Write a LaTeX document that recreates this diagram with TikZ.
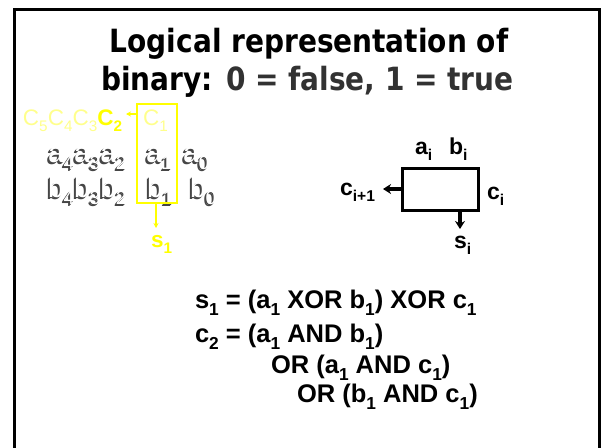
\documentclass[tikz,border=0pt]{standalone}
\usepackage{graphicx}
\usepackage{fontspec}
\setmainfont{Liberation Sans}
\newfontfamily\titlefont{DejaVu Sans}
\usepackage{tikz}
\usetikzlibrary{arrows.meta, positioning}
\definecolor{hiyellow}{RGB}{255, 255, 0}
\definecolor{paleyellow}{RGB}{255, 255, 140}
\definecolor{titlegray}{RGB}{50, 50, 50}
\definecolor{embshade}{RGB}{70, 70, 70}
\newcommand{\dn}[1]{\raisebox{-0.28em}{\scalebox{0.68}{#1}}}
\newcommand{\squeeze}[1]{\scalebox{0.875}[1]{#1}}
\tikzset{
  txt/.style={anchor=base west, inner sep=0pt, outer sep=0pt},
  titletext/.style={anchor=base, inner sep=0pt, font=\titlefont\bfseries\fontsize{32}{36}\selectfont},
  eqtext/.style={txt, font=\fontsize{25.5}{28}\selectfont\bfseries},
  lbltext/.style={txt, font=\fontsize{23}{26}\selectfont\bfseries},
  embtext/.style={txt, text=white, font=\fontsize{28}{30}\selectfont},
  embshadow/.style={txt, text=embshade, font=\fontsize{28}{30}\selectfont},
  fatarrow/.style={line width=3.2, -{Stealth[length=8pt, width=10pt]}},
}

\begin{document}
\begin{tikzpicture}[x=1pt, y=-1pt]
    \useasboundingbox (0,0) rectangle (602,447);
    % Slide frame (runs off the bottom)
    \draw[line width=2.8] (14.5,460) -- (14.5,9.5) -- (599.5,9.5) -- (599.5,460);

    % Title
    \node[titletext] (title1) at (309,52) {\squeeze{Logical representation of}};
    \node[titletext] (title2) at (307.5,90) {\squeeze{binary: \textcolor{titlegray}{0 = false, 1 = true}}};

    % Carry row
    \node[txt, text=paleyellow, font=\fontsize{22.5}{24}\selectfont] (c53) at (23,125) {C\dn{5}C\dn{4}C\dn{3}};
    \node[txt, text=hiyellow, font=\fontsize{22.5}{24}\selectfont\bfseries] (c2) at (c53.base east) {C\dn{2}};
    \node[txt, text=paleyellow, font=\fontsize{22.5}{24}\selectfont] (c1) at (143,125) {C\dn{1}};

    % Embossed operand digits (two shadow layers under white)
    \foreach \nm/\x/\y/\t in {a42/48/162/{a\dn{4}a\dn{3}a\dn{2}}, a1/146/162/{a\dn{1}}, a0/183/162/{a\dn{0}},
                              b42/48/197/{b\dn{4}b\dn{3}b\dn{2}}, b1/147/197/{b\dn{1}}, b0/190/197/{b\dn{0}}} {
        \node[embshadow] (\nm s) at (\x-2,\y+2) {\t};
        \node[embshadow] (\nm t) at (\x-1,\y+1) {\t};
        \node[embtext] (\nm) at (\x,\y) {\t};
    }

    % Column box with carry-out and sum
    \node[draw=hiyellow, line width=1.8, minimum width=40, minimum height=99, inner sep=0pt] (colbox) at (157,153.5) {};
    \coordinate (cout) at (126,114);
    \draw[hiyellow, line width=1.6, -{Stealth[length=5pt, width=5pt]}] (colbox.west |- cout) -- (cout);
    \node[txt, text=hiyellow, font=\fontsize{22.5}{24}\selectfont\bfseries] (s1) at (151,247) {s\dn{1}};
    \coordinate (sout) at (156,228);
    \draw[hiyellow, line width=1.6, -{Stealth[length=5pt, width=5pt]}] (colbox.south -| sout) -- (sout);

    % Full adder block
    \node[draw, line width=3, minimum width=76, minimum height=42, inner sep=0pt] (adder) at (440,189) {};
    \node[lbltext] (ai) at (415,154) {a\dn{i}};
    \node[lbltext] (bi) at (449,154) {b\dn{i}};
    \node[lbltext] (ci) at (487,199) {c\dn{i}};
    \node[lbltext] (cnext) at (340,195) {c\dn{i+1}};
    \node[lbltext] (si) at (454,248) {s\dn{i}};
    \coordinate (aout) at (383,189);
    \coordinate (sdown) at (460,229);
    \draw[fatarrow] (adder.west) -- (aout);
    \draw[fatarrow] (adder.south -| sdown) -- (sdown);

    % Boolean equations
    \node[eqtext] (eqs) at (195,308) {s\dn{1} = (a\dn{1} XOR b\dn{1}) XOR c\dn{1}};
    \node[eqtext] (eqc) at (195,342) {c\dn{2} = (a\dn{1} AND b\dn{1})};
    \node[eqtext] (eqor1) at (271,373) {OR (a\dn{1} AND c\dn{1})};
    \node[eqtext] (eqor2) at (297,402) {OR (b\dn{1} AND c\dn{1})};
\end{tikzpicture}
\end{document}
